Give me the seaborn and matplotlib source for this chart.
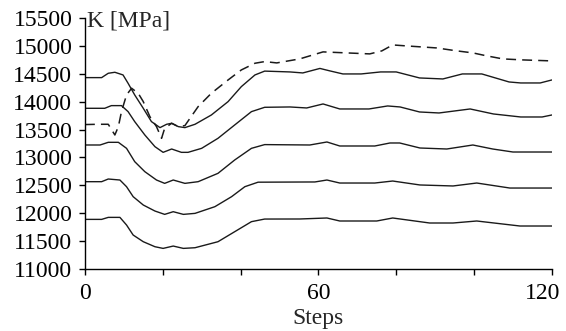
import matplotlib
matplotlib.use("Agg")
import matplotlib.pyplot as plt
import matplotlib.transforms as mtransforms
import seaborn as sns

# Solid curves (top to bottom) and the dashed reference curve: step / K [MPa]
steps_1 = [0, 4.3, 6, 7.7, 9.8, 11.1, 12.8, 15, 17.1, 19.3, 21, 22.3, 24, 25.7, 28.3,
           32.5, 36.8, 40.2, 43.7, 46.2, 52.7, 56, 60.4, 63, 66.3, 71, 76, 80, 86,
           92, 97, 102, 109, 112, 117, 120]
k_1 = [14433, 14433, 14511, 14529, 14481, 14331, 14122, 13882, 13643, 13535, 13595,
       13613, 13553, 13535, 13595, 13762, 14002, 14271, 14481, 14550, 14535, 14517,
       14598, 14553, 14499, 14499, 14535, 14535, 14427, 14409, 14499, 14499, 14355,
       14337, 14337, 14391]

steps_2 = [0, 5.1, 6.8, 9.4, 11.1, 12.8, 15.4, 18, 20.1, 22.3, 24.8, 26.5, 30, 34.2,
           38.5, 42.8, 46.2, 52.7, 57, 61.2, 65.5, 73, 77.8, 81, 86, 91, 99, 105, 112,
           117.5, 120]
k_2 = [13882, 13882, 13930, 13930, 13822, 13643, 13403, 13193, 13091, 13151, 13091,
       13091, 13163, 13343, 13583, 13822, 13900, 13906, 13888, 13960, 13870, 13870,
       13924, 13906, 13816, 13798, 13870, 13780, 13726, 13726, 13762]

steps_3 = [0, 3.9, 6, 8.6, 10.7, 12.8, 15.4, 18.4, 20.5, 22.7, 25.7, 29.1, 34.2, 38.5,
           42.8, 46.2, 57.8, 62.2, 65.5, 74.5, 78.4, 80.9, 86.1, 93, 99.7, 104.8, 110,
           120]
k_3 = [13223, 13223, 13271, 13271, 13163, 12924, 12744, 12594, 12534, 12594, 12534,
       12564, 12714, 12954, 13163, 13230, 13223, 13277, 13205, 13205, 13259, 13259,
       13169, 13151, 13223, 13151, 13097, 13097]

steps_4 = [0, 4.3, 6, 9, 10.7, 12.4, 15, 18, 20.5, 22.7, 25.3, 28.3, 33.4, 37.7, 41.1,
           44.5, 59.1, 62.2, 65.5, 74.5, 79.1, 86.1, 94.6, 100.7, 109.2, 120]
k_4 = [12564, 12564, 12612, 12594, 12474, 12295, 12145, 12037, 11977, 12025, 11977,
       11995, 12115, 12295, 12474, 12555, 12559, 12594, 12540, 12540, 12576, 12505,
       12487, 12540, 12450, 12450]

steps_5 = [0, 4.3, 6, 9, 10.7, 12.4, 15, 18, 20.1, 22.7, 25.3, 28.3, 34.2, 38.5, 42.8,
           46.2, 55.2, 62.2, 65.5, 75, 79.1, 88.6, 94.6, 100.7, 111.8, 120]
k_5 = [11887, 11887, 11923, 11923, 11786, 11606, 11486, 11396, 11366, 11408, 11366,
       11378, 11486, 11666, 11846, 11893, 11894, 11912, 11858, 11858, 11912, 11822,
       11822, 11858, 11768, 11768]

steps_ref = [0, 3.4, 6, 7.7, 8.6, 9.4, 10.7, 12, 13.7, 15, 16.7, 18.4, 19.7, 20.5,
             22.3, 24, 25.7, 27, 29.1, 32.5, 36.8, 40.2, 43.7, 46.2, 49.3, 55.2, 61.2,
             73.2, 76.3, 79.1, 82.7, 90.4, 95.6, 99.7, 103.3, 107.4, 112.5, 120]
k_ref = [13590, 13595, 13595, 13403, 13553, 13822, 14122, 14242, 14152, 14002, 13732,
         13553, 13343, 13523, 13613, 13553, 13571, 13702, 13912, 14152, 14391, 14571,
         14691, 14721, 14697, 14769, 14895, 14859, 14913, 15020, 15002, 14966, 14913,
         14877, 14823, 14769, 14751, 14733]

y_ticks = list(range(11000, 15501, 500))
x_ticks = [0, 20, 40, 60, 80, 100, 120]
x_labels = ["0", "", "", "60", "", "", "120"]

sns.set_style("ticks")
plt.rcParams["font.family"] = ["Liberation Serif", "DejaVu Serif"]

fig = plt.figure(figsize=(5.66, 3.31), dpi=100)
ax = fig.add_axes([0.150, 0.188, 0.825, 0.757])

line_color = "#1a1a1a"
for xs, ys in [(steps_1, k_1), (steps_2, k_2), (steps_3, k_3),
               (steps_4, k_4), (steps_5, k_5)]:
    sns.lineplot(x=xs, y=ys, ax=ax, color=line_color, linewidth=1.0,
                 sort=False, estimator=None, solid_joinstyle="round")

sns.lineplot(x=steps_ref, y=k_ref, ax=ax, color=line_color, linewidth=1.1,
             sort=False, estimator=None)
ax.lines[-1].set_dashes((6.5, 4.0))

ax.set_xlim(0, 120)
ax.set_ylim(11000, 15500)
ax.set_yticks(y_ticks)
ax.set_yticklabels([str(v) for v in y_ticks])
ax.set_xticks(x_ticks)
ax.set_xticklabels(x_labels)

sns.despine(ax=ax)
for side in ("left", "bottom"):
    ax.spines[side].set_linewidth(1.0)
    ax.spines[side].set_color("black")

ax.tick_params(axis="both", direction="out", length=4, width=1.0,
               colors="black", labelsize=17)
ax.tick_params(axis="y", pad=5)
ax.tick_params(axis="x", pad=6)

# keep the last step label inside the figure
last = ax.get_xticklabels()[-1]
last.set_transform(last.get_transform() +
                   mtransforms.ScaledTranslation(-9 / 100, 0, fig.dpi_scale_trans))

ax.set_xlabel("Steps", fontsize=17, labelpad=3)
ax.set_ylabel("")
ax.text(0.005, 0.99, "K [MPa]", transform=ax.transAxes, ha="left", va="center",
        fontsize=17)

fig.savefig("out.png", dpi=100)
